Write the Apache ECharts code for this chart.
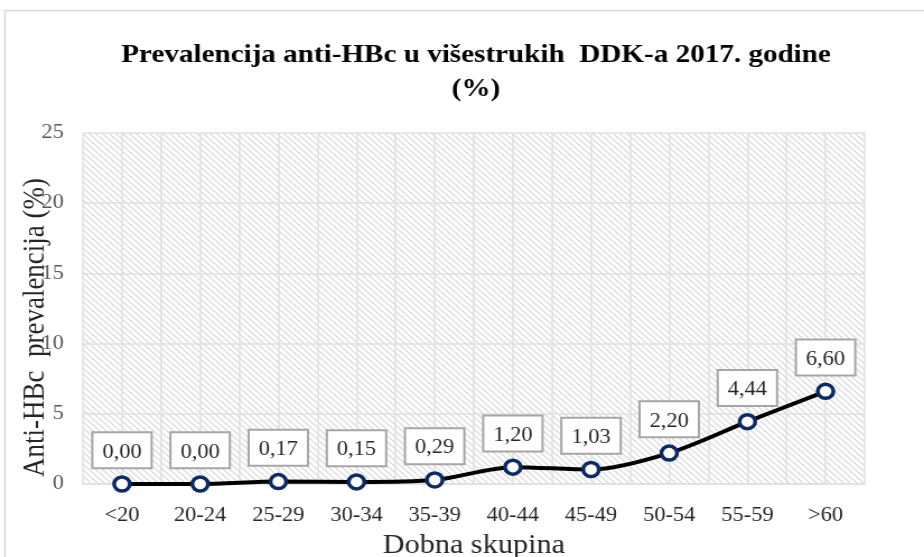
<!DOCTYPE html>
<html>
<head>
<meta charset="utf-8">
<script src="https://cdn.jsdelivr.net/npm/echarts@6/dist/echarts.min.js"></script>
<style>
  html, body { margin: 0; padding: 0; background: #ffffff; overflow: hidden; }
  #wrap { width: 924px; height: 557px; overflow: hidden; }
  /* the chart is laid out narrower and widened to the page width */
  #chart { width: 825px; height: 557px; transform: scaleX(1.12); transform-origin: 0 0; }
</style>
</head>
<body>
<div id="wrap"><div id="chart"></div></div>
<script>
// Age groups and anti-HBc prevalence (%)
const ageGroups = ['<20', '20-24', '25-29', '30-34', '35-39', '40-44', '45-49', '50-54', '55-59', '>60'];
const prevalence = [0.00, 0.00, 0.17, 0.15, 0.29, 1.20, 1.03, 2.20, 4.44, 6.60];
const yTicks = [0, 5, 10, 15, 20, 25];

// Half-category positions, used only for the finer vertical grid
const halfSlots = [];
ageGroups.forEach(function (g) { halfSlots.push(g + 'a', g + 'b'); });

// Diagonal hatch pattern for the plot background
function hatchCanvas() {
  const c = document.createElement('canvas');
  c.width = 6; c.height = 6;
  const ctx = c.getContext('2d');
  ctx.fillStyle = '#ffffff';
  ctx.fillRect(0, 0, 6, 6);
  ctx.strokeStyle = '#d8d8d8';
  ctx.lineWidth = 1.2;
  ctx.beginPath();
  ctx.moveTo(-1, -1); ctx.lineTo(7, 7);
  ctx.moveTo(-1, 5); ctx.lineTo(1, 7);
  ctx.moveTo(5, -1); ctx.lineTo(7, 1);
  ctx.stroke();
  return c;
}

const serif = '"Liberation Serif", "Times New Roman", serif';
const chart = echarts.init(document.getElementById('chart'), null, { renderer: 'canvas' });

chart.setOption({
  animation: false,
  backgroundColor: '#ffffff',
  graphic: [{
    type: 'rect',
    shape: { x: 4.5, y: 10.5, width: 900, height: 560 },
    style: { fill: 'none', stroke: '#d9d9d9', lineWidth: 1.5 },
    silent: true
  }],
  title: {
    text: 'Prevalencija anti-HBc u višestrukih  DDK-a 2017. godine\n(%)',
    left: 420,
    textAlign: 'center',
    top: 33,
    textStyle: {
      fontFamily: serif,
      fontSize: 26,
      fontWeight: 'bold',
      color: '#000000',
      lineHeight: 34
    }
  },
  grid: {
    left: 74,
    right: 53,
    top: 133,
    bottom: 73,
    outerBoundsMode: 'none',
    containLabel: false,
    show: true,
    borderWidth: 0,
    backgroundColor: { image: hatchCanvas(), repeat: 'repeat' }
  },
  xAxis: [{
    type: 'category',
    data: ageGroups,
    boundaryGap: true,
    name: 'Dobna skupina',
    nameLocation: 'middle',
    nameGap: 48,
    nameMoveOverlap: false,
    nameTextStyle: { fontFamily: serif, fontSize: 27, color: '#262626' },
    axisLine: { show: true, lineStyle: { color: '#e0e0e0', width: 1.5 } },
    axisTick: { show: false },
    axisLabel: { fontFamily: serif, fontSize: 20, color: '#262626', margin: 22 },
    splitLine: { show: false }
  }, {
    type: 'category',
    data: halfSlots,
    boundaryGap: true,
    position: 'bottom',
    axisLine: { show: false },
    axisTick: { show: false },
    axisLabel: { show: false },
    splitLine: { show: true, interval: 0, lineStyle: { color: '#e0e0e0', width: 1.5 } }
  }],
  yAxis: {
    type: 'value',
    min: yTicks[0],
    max: yTicks[yTicks.length - 1],
    interval: 5,
    name: 'Anti-HBc  prevalencija (%)',
    nameLocation: 'middle',
    nameGap: 29,
    nameMoveOverlap: false,
    nameTextStyle: { fontFamily: serif, fontSize: 27, color: '#262626', padding: [0, 38, 0, 0] },
    axisLine: { show: false },
    axisTick: { show: false },
    axisLabel: { fontFamily: serif, fontSize: 20, color: '#595959', margin: 17 },
    splitLine: { show: true, lineStyle: { color: '#e0e0e0', width: 1.5 } }
  },
  series: [{
    type: 'line',
    xAxisIndex: 0,
    data: prevalence,
    smooth: 0.3,
    symbol: 'circle',
    symbolSize: 14,
    lineStyle: { color: '#000000', width: 4 },
    itemStyle: { color: '#ffffff', borderColor: '#0e2a66', borderWidth: 3.5 },
    label: {
      show: true,
      position: 'top',
      distance: 8,
      formatter: function (p) { return p.value.toFixed(2).replace('.', ','); },
      fontFamily: serif,
      fontSize: 20,
      lineHeight: 20,
      color: '#262626',
      backgroundColor: '#ffffff',
      borderColor: '#a6a6a6',
      borderWidth: 2,
      padding: [9, 8, 5, 8]
    },
    z: 5
  }]
});
</script>
</body>
</html>
